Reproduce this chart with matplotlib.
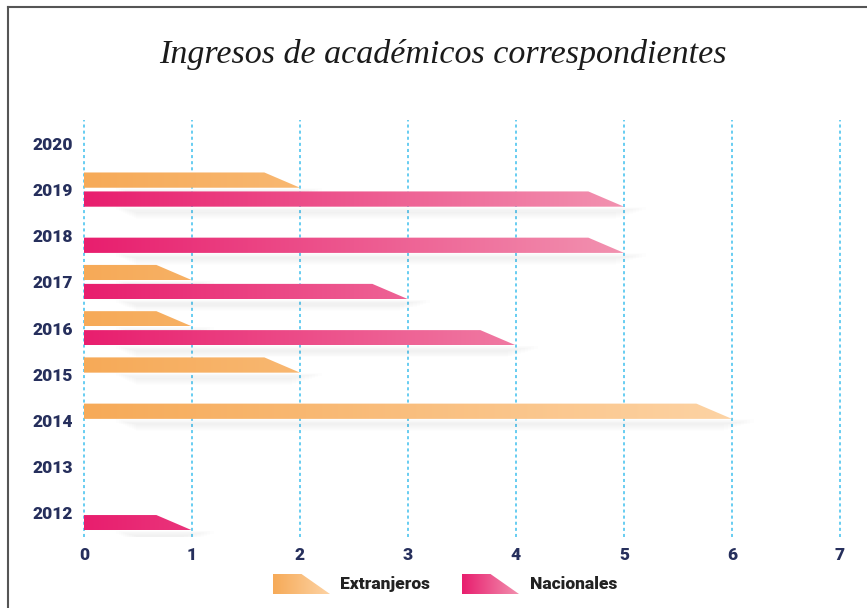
import numpy as np
import matplotlib.pyplot as plt
from matplotlib.patches import Polygon
from matplotlib.colors import LinearSegmentedColormap
from matplotlib.lines import Line2D

years = [2020, 2019, 2018, 2017, 2016, 2015, 2014, 2013, 2012]
extranjeros = [0, 2, 0, 1, 1, 2, 6, 0, 0]
nacionales = [0, 5, 5, 3, 4, 0, 0, 0, 1]
x_ticks = [0, 1, 2, 3, 4, 5, 6, 7]
title = "Ingresos de académicos correspondientes"
series_names = ["Extranjeros", "Nacionales"]

orange_cmap = LinearSegmentedColormap.from_list("ext", ["#f6aa58", "#fdd3a4"])
pink_cmap = LinearSegmentedColormap.from_list("nac", ["#e81e6e", "#f292b0"])

NAVY = "#262f5c"
BAR_H = 0.33
SLANT = 0.33
GRAD = np.linspace(0, 1, 256).reshape(1, -1)


def slanted_bar(ax, value, yc, cmap, gmax):
    """Bar with a sloped right end, filled with a horizontal gradient."""
    y0, y1 = yc - BAR_H / 2, yc + BAR_H / 2
    # soft shadow under the bar: stacked faint layers that shrink outwards
    for k in range(10):
        top = y0 - 0.01 - k * 0.012
        bot = y0 - 0.08 - k * 0.02
        sh = Polygon([(0.3 + k * 0.02, bot), (value + 0.2 - k * 0.03, bot),
                      (value + 0.2 - k * 0.03, top), (0.3 + k * 0.02, top)],
                     closed=True, fc="#000000", ec="none", alpha=0.006, zorder=1)
        ax.add_patch(sh)
    poly = Polygon([(0, y0), (value, y0), (value - SLANT, y1), (0, y1)],
                   closed=True, fc="none", ec="none")
    ax.add_patch(poly)
    im = ax.imshow(GRAD, cmap=cmap, extent=[0, gmax, y0, y1], aspect="auto",
                   interpolation="bilinear", zorder=3)
    im.set_clip_path(poly)


fig = plt.figure(figsize=(8.67, 6.08), dpi=100)
ax = fig.add_axes([84 / 867, 1 - 537 / 608, (840 - 84) / 867, (537 - 120) / 608])

for yr, e, n in zip(years, extranjeros, nacionales):
    if e > 0:
        slanted_bar(ax, e, yr + 0.2, orange_cmap, 6)
    if n > 0:
        slanted_bar(ax, n, yr - 0.21, pink_cmap, 5)

ax.set_xlim(0, 7)
ax.set_ylim(2011.48, 2020.5)
for x in x_ticks:
    ax.axvline(x, color="#3fc0ee", lw=1.1, ls=(0, (2, 2)), zorder=0, clip_on=False)

for s in ax.spines.values():
    s.set_visible(False)
ax.set_xticks(x_ticks)
ax.set_yticks(years)
ax.tick_params(length=0, labelsize=12.5, labelcolor=NAVY, pad=7)
ax.tick_params(axis="y", pad=8)
for lab in ax.get_xticklabels() + ax.get_yticklabels():
    lab.set_fontweight("heavy")
    lab.set_family("Roboto")

fig.text(0.511, 1 - 55 / 608, title, ha="center", va="center", fontsize=24.5,
         style="italic", family="Liberation Serif", color="#1b1b1b")

# frame lines on left and top
fig.add_artist(Line2D([8 / 867, 8 / 867], [0, 1 - 7 / 608], color="#555555", lw=1.5))
fig.add_artist(Line2D([8 / 867, 1], [1 - 7 / 608, 1 - 7 / 608], color="#555555", lw=1.5))

# legend swatches
for name, cmap, x_left, x_text in [(series_names[0], orange_cmap, 273, 340),
                                   (series_names[1], pink_cmap, 462, 530)]:
    lax = fig.add_axes([x_left / 867, 1 - 594 / 608, 57 / 867, 20 / 608])
    lax.set_xlim(0, 1)
    lax.set_ylim(0, 1)
    lax.axis("off")
    p = Polygon([(0, 0), (1, 0), (0.5, 1), (0, 1)], closed=True, fc="none", ec="none")
    lax.add_patch(p)
    im = lax.imshow(GRAD, cmap=cmap, extent=[0, 1, 0, 1], aspect="auto")
    im.set_clip_path(p)
    fig.text(x_text / 867, 1 - 584 / 608, name, ha="left", va="center", fontsize=12.5,
             fontweight="heavy", family="Roboto", color="#222222")

fig.savefig("out.png", dpi=100)
